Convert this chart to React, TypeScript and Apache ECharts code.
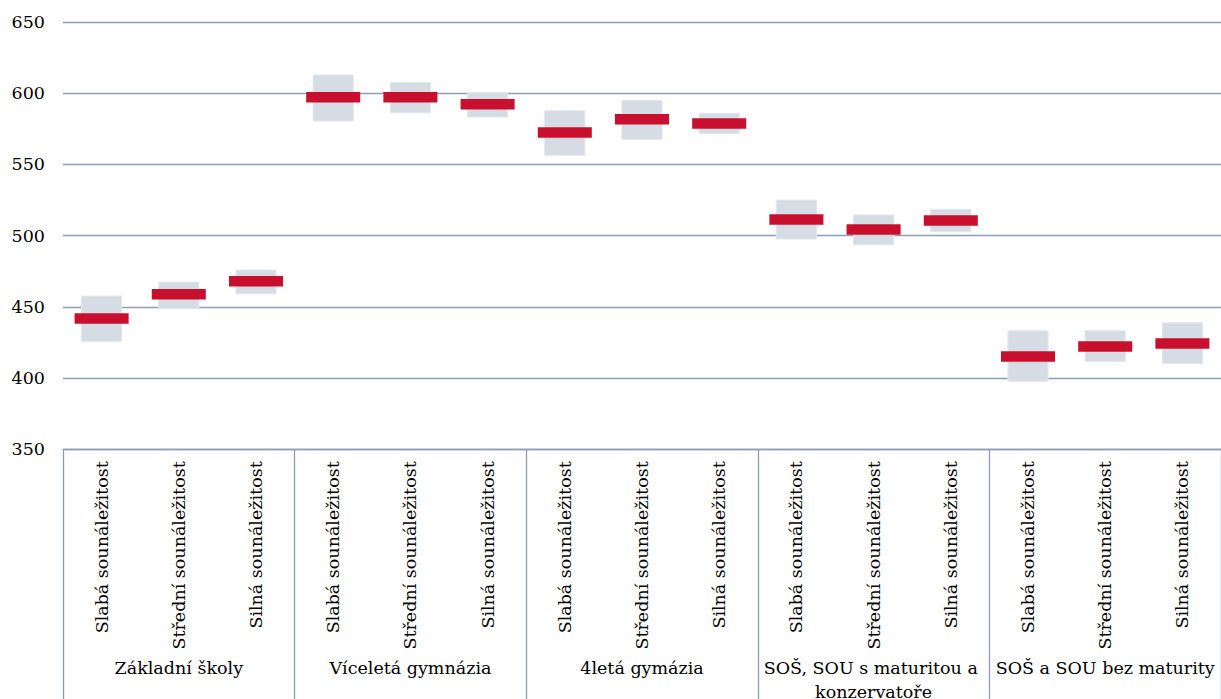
import React, { useEffect, useRef } from "react";
import * as echarts from "echarts";

const groups = [
  "Základní školy",
  "Víceletá gymnázia",
  "4letá gymázia",
  "SOŠ, SOU s maturitou a konzervatoře",
  "SOŠ a SOU bez maturity",
];
const levels = ["Slabá sounáležitost", "Střední sounáležitost", "Silná sounáležitost"];
const categories = groups.flatMap(() => levels);

const lowValues = [425.8, 449, 459.2, 580.5, 586.3, 583.3, 556.4, 567.6, 571.8, 497.6, 493.6, 502.8, 397.7, 411.7, 410.3];
const highValues = [457.6, 467.4, 475.8, 612.8, 607.6, 600.4, 587.7, 595, 585.9, 525, 514.5, 518.5, 433.2, 433.2, 438.8];
const meanValues = [441.8, 458.8, 467.9, 597.1, 597.2, 592.2, 572.5, 581.7, 578.8, 511.4, 504.4, 510.7, 415.2, 422.2, 424.3];

const yTicks = { min: 350, max: 650, interval: 50 };

const FONT = "DejaVu Serif";
const LINE = "#8E9DB7";

export default function App() {
  const ref = useRef<HTMLDivElement>(null);
  useEffect(() => {
    if (!ref.current) return;
    const chart = echarts.init(ref.current, null, { renderer: "svg" });
    chart.setOption({
      animation: false,
      textStyle: { fontFamily: FONT },
      grid: { left: 63, right: 0, top: 22, height: 427.3, outerBoundsMode: "none", containLabel: false },
      xAxis: [
        {
          type: "category",
          data: categories,
          position: "bottom",
          axisLine: { show: true, lineStyle: { color: LINE, width: 1.3 } },
          axisTick: {
            show: true,
            interval: (i: number) => i % 3 === 0,
            length: 260,
            lineStyle: { color: LINE, width: 1.3 },
          },
          axisLabel: {
            rotate: 90,
            interval: 0,
            margin: 12,
            fontFamily: FONT,
            fontSize: 17.5,
            color: "#000",
          },
        },
        {
          type: "category",
          data: groups,
          position: "bottom",
          offset: 200,
          axisLine: { show: false },
          axisTick: { show: false },
          axisLabel: {
            interval: 0,
            margin: 7,
            fontFamily: FONT,
            fontSize: 17.5,
            lineHeight: 24,
            color: "#000",
            width: 228,
            overflow: "break",
            align: "center",
          },
        },
      ],
      yAxis: {
        type: "value",
        min: yTicks.min,
        max: yTicks.max,
        interval: yTicks.interval,
        axisLine: { show: false },
        axisTick: { show: false },
        axisLabel: { fontFamily: FONT, fontSize: 17.5, color: "#000", margin: 18 },
        splitLine: { lineStyle: { color: LINE, width: 1.3 } },
      },
      series: [
        {
          type: "custom",
          xAxisIndex: 0,
          data: categories.map((_, i) => [i, lowValues[i], highValues[i]]),
          renderItem: (params: any, api: any) => {
            const i = api.value(0);
            const top = api.coord([i, api.value(2)]);
            const bot = api.coord([i, api.value(1)]);
            const w = api.size([1, 0])[0] * 0.52;
            return {
              type: "rect",
              shape: { x: top[0] - w / 2, y: top[1], width: w, height: bot[1] - top[1] },
              style: { fill: "#D6DCE4", stroke: "#E2E7ED", lineWidth: 1 },
            };
          },
          z: 3,
        },
        {
          type: "custom",
          xAxisIndex: 0,
          data: categories.map((_, i) => [i, meanValues[i]]),
          renderItem: (params: any, api: any) => {
            const i = api.value(0);
            const c = api.coord([i, api.value(1)]);
            const w = api.size([1, 0])[0] * 0.7;
            const h = 10.5;
            return {
              type: "rect",
              shape: { x: c[0] - w / 2, y: c[1] - h / 2, width: w, height: h },
              style: { fill: "#C8102E" },
            };
          },
          z: 4,
        },
      ],
    });
    return () => chart.dispose();
  }, []);
  return (
    <div
      ref={ref}
      style={{ position: "fixed", left: 0, top: 0, width: 1221, height: 699, background: "#fff" }}
    />
  );
}
